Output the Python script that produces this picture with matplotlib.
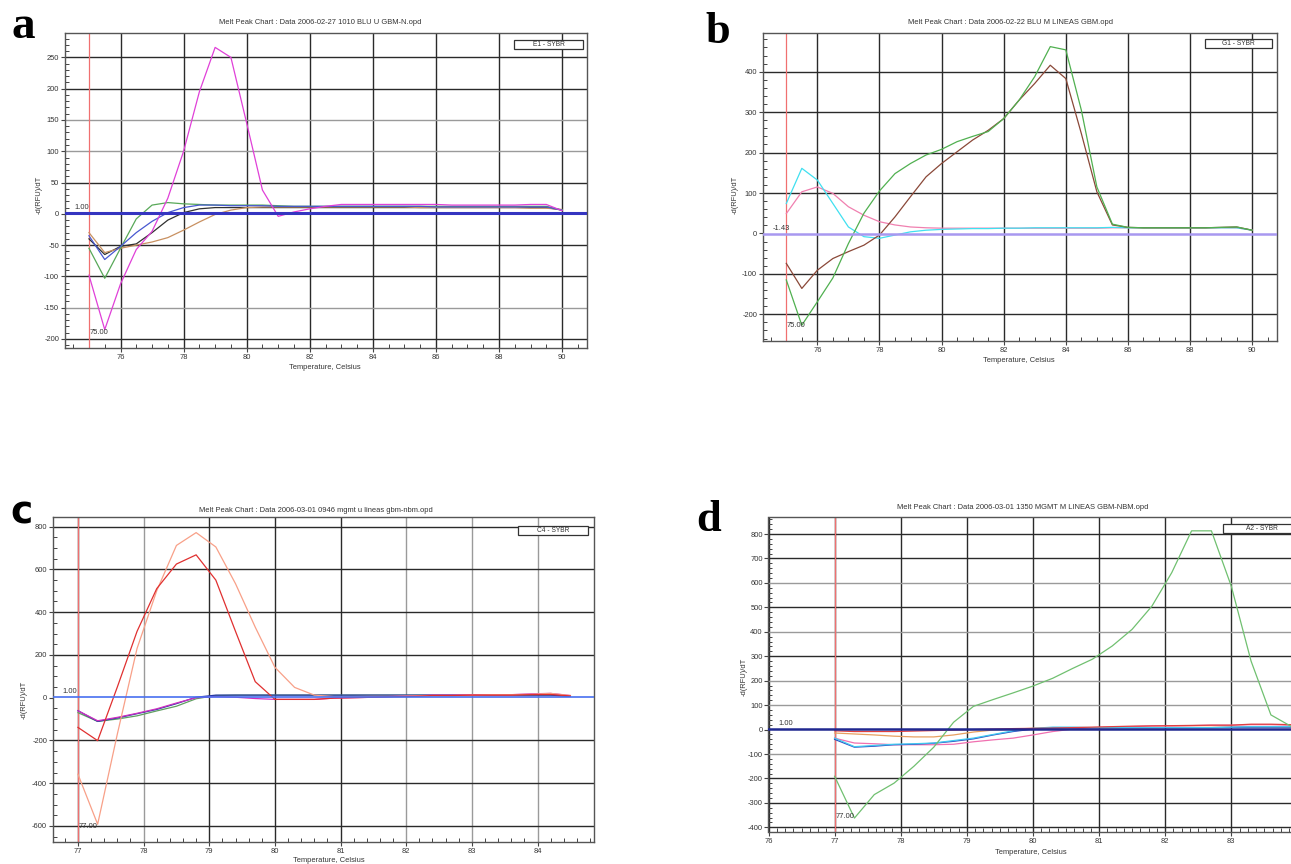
import matplotlib
matplotlib.use("Agg")
import matplotlib.pyplot as plt
from matplotlib.ticker import MultipleLocator
from matplotlib.patches import Rectangle

plt.rcParams['font.family'] = ['Liberation Sans', 'DejaVu Sans']

W, H = 1291, 864

# ---------------- data ----------------
# panel a  (step 0.5 C)
temp_a = [75.0, 75.5, 76.0, 76.5, 77.0, 77.5, 78.0, 78.5, 79.0, 79.5, 80.0, 80.5,
          81.0, 81.5, 82.0, 82.5, 83.0, 83.5, 84.0, 84.5, 85.0, 85.5, 86.0, 86.5,
          87.0, 87.5, 88.0, 88.5, 89.0, 89.5, 90.0]
a_black = [-40, -65, -52, -48, -30, -10, 2, 8, 10, 10, 10, 10, 10, 10, 10, 10, 10, 10,
           10, 10, 10, 10, 10, 10, 10, 10, 10, 10, 10, 10, 6]
a_tan = [-30, -62, -55, -50, -45, -38, -26, -13, -1, 6, 10, 11, 11, 11, 11, 11, 11, 11,
         11, 11, 11, 10, 10, 10, 10, 10, 10, 10, 9, 9, 7]
a_green = [-55, -103, -55, -8, 14, 18, 16, 15, 14, 14, 14, 14, 13, 12, 12, 12, 12, 12,
           12, 12, 12, 12, 12, 12, 12, 12, 12, 12, 12, 12, 6]
a_blue = [-35, -73, -52, -30, -12, 2, 10, 14, 14, 13, 13, 13, 12, 12, 12, 12, 12, 12,
          12, 12, 12, 12, 11, 11, 11, 11, 11, 11, 11, 11, 6]
a_magenta = [-98, -185, -112, -57, -28, 25, 100, 195, 266, 250, 145, 38, -4, 3, 8, 12,
             15, 15, 15, 15, 15, 15, 15, 14, 14, 14, 14, 14, 15, 15, 5]
thr_a = 1.00
start_a = 75.00

# panel b  (step 0.5 C)
temp_b = [75.0, 75.5, 76.0, 76.5, 77.0, 77.5, 78.0, 78.5, 79.0, 79.5, 80.0, 80.5,
          81.0, 81.5, 82.0, 82.5, 83.0, 83.5, 84.0, 84.5, 85.0, 85.5, 86.0, 86.5,
          87.0, 87.5, 88.0, 88.5, 89.0, 89.5, 90.0]
b_green = [-115, -227, -169, -110, -25, 50, 105, 148, 173, 194, 208, 227, 240, 252, 284,
           330, 388, 462, 454, 305, 115, 23, 15, 14, 14, 14, 14, 14, 15, 16, 8]
b_brown = [-74, -136, -91, -62, -45, -29, -4, 41, 91, 140, 173, 202, 231, 255, 284, 330,
           371, 416, 383, 247, 103, 21, 15, 14, 14, 14, 14, 14, 15, 16, 8]
b_cyan = [74, 161, 132, 74, 16, -8, -12, -4, 4, 8, 10, 11, 12, 12, 13, 13, 14, 14, 14,
          14, 14, 15, 14, 14, 14, 14, 14, 14, 14, 14, 8]
b_pink = [49, 103, 115, 99, 66, 45, 29, 21, 16, 14, 13, 13, 13, 13, 13, 13, 13, 13, 13,
          13, 13, 14, 14, 14, 14, 14, 14, 14, 14, 14, 8]
thr_b = -1.43
start_b = 75.00

# panel c  (step 0.3 C)
temp_c = [77.0, 77.3, 77.6, 77.9, 78.2, 78.5, 78.8, 79.1, 79.4, 79.7, 80.0, 80.3, 80.6,
          80.9, 81.2, 81.5, 81.8, 82.1, 82.4, 82.7, 83.0, 83.3, 83.6, 83.9, 84.2, 84.5]
c_green = [-70, -111, -100, -85, -62, -40, -5, 10, 12, 12, 12, 12, 12, 12, 12, 12, 12,
           12, 12, 12, 12, 12, 12, 12, 12, 6]
c_blue = [-61, -111, -95, -75, -55, -28, 2, 12, 12, 12, 12, 12, 12, 12, 12, 12, 12, 12,
          12, 12, 12, 12, 12, 12, 12, 6]
c_magenta = [-61, -108, -92, -73, -52, -25, 0, 5, 2, -4, -8, -8, -8, -2, 0, 2, 6, 8, 12,
             12, 14, 14, 14, 18, 20, 10]
c_salmon = [-358, -592, -170, 230, 500, 712, 772, 705, 533, 330, 142, 48, 12, 5, 5, 6,
            6, 8, 10, 10, 12, 14, 14, 16, 20, 10]
c_red = [-139, -201, 50, 310, 510, 625, 668, 550, 310, 75, -8, -8, -8, -2, 0, 2, 4, 6,
         10, 10, 12, 12, 12, 14, 15, 8]
thr_c = 1.00
start_c = 77.00

# panel d  (step 0.3 C)
temp_d = [77.0, 77.3, 77.6, 77.9, 78.2, 78.5, 78.8, 79.1, 79.4, 79.7, 80.0, 80.3, 80.6,
          80.9, 81.2, 81.5, 81.8, 82.1, 82.4, 82.7, 83.0, 83.3, 83.6, 83.9, 84.2]
d_orange = [-14, -18, -22, -27, -30, -30, -22, -10, -2, 2, 5, 6, 7, 8, 8, 8, 8, 9, 9, 9,
            10, 10, 10, 10, 10]
d_pink = [-35, -55, -58, -62, -62, -62, -60, -50, -42, -35, -22, -8, 2, 8, 10, 12, 15,
          15, 16, 18, 18, 20, 20, 18, 16]
d_blue = [-40, -72, -68, -62, -60, -56, -48, -38, -22, -8, 2, 8, 8, 8, 8, 8, 8, 8, 8, 8,
          9, 10, 10, 10, 10]
d_cyan = [-35, -70, -65, -60, -58, -55, -45, -35, -20, -5, 5, 10, 10, 8, 8, 8, 8, 8, 8,
          8, 10, 12, 12, 12, 12]
d_red = [-5, -8, -8, -8, -6, -4, -2, 0, 2, 4, 5, 6, 8, 10, 12, 14, 15, 16, 17, 18, 18,
         22, 22, 20, 18]
d_green = [-191, -362, -266, -219, -150, -72, 30, 95, 123, 150, 178, 210, 250, 288, 342,
           410, 505, 642, 813, 813, 587, 280, 60, 14, 10]
thr_d = 1.00
start_d = 77.00

# tick labels shown on each panel
xticks_a = [76, 78, 80, 82, 84, 86, 88, 90]
yticks_a = [-200, -150, -100, -50, 0, 50, 100, 150, 200, 250]
xticks_b = [76, 78, 80, 82, 84, 86, 88, 90]
yticks_b = [-200, -100, 0, 100, 200, 300, 400]
xticks_c = [77, 78, 79, 80, 81, 82, 83, 84]
yticks_c = [-600, -400, -200, 0, 200, 400, 600, 800]
xticks_d = [76, 77, 78, 79, 80, 81, 82, 83]
yticks_d = [-400, -300, -200, -100, 0, 100, 200, 300, 400, 500, 600, 700, 800]

titles = ["Melt Peak Chart : Data 2006-02-27 1010 BLU U GBM-N.opd",
          "Melt Peak Chart : Data 2006-02-22 BLU M LINEAS GBM.opd",
          "Melt Peak Chart : Data 2006-03-01 0946 mgmt u lineas gbm-nbm.opd",
          "Melt Peak Chart : Data 2006-03-01 1350 MGMT M LINEAS GBM-NBM.opd"]
wells = ["E1 - SYBR", "G1 - SYBR", "C4 - SYBR", "A2 - SYBR"]
letters = ["a", "b", "c", "d"]

# ---------------- drawing ----------------
fig = plt.figure(figsize=(W / 100, H / 100), dpi=100)
TXT = '#333333'


def rect(l, t, r, b):
    return [l / W, 1 - b / H, (r - l) / W, (b - t) / H]


def fx(x):
    return x / W


def fy(y):
    return 1 - y / H


def panel(box, xlim, ylim, xmin, ymin, xt, yt, light_x, light_y,
          series, thr, thr_color, thr_lw, start):
    ax = fig.add_axes(rect(*box))
    ax.set_xlim(*xlim)
    ax.set_ylim(*ylim)
    ax.xaxis.set_minor_locator(MultipleLocator(xmin))
    ax.yaxis.set_minor_locator(MultipleLocator(ymin))
    ax.set_xticks(xt)
    ax.set_yticks(yt)
    ax.set_xticklabels([f"{v:g}" for v in xt])
    ax.set_yticklabels([f"{v:g}" for v in yt])
    for v in xt:
        ax.axvline(v, color='#9a9a9a' if v in light_x else '#2a2a2a', lw=1.0, zorder=1)
    for v in yt:
        if v == 0:
            continue
        ax.axhline(v, color='#9a9a9a' if v in light_y else '#2a2a2a', lw=1.0, zorder=1)
    ax.axvline(start, color='#f07070', lw=0.9, zorder=2)
    for x, y, c in series:
        ax.plot(x, y, color=c, lw=0.9, zorder=3)
    ax.axhline(thr, color=thr_color, lw=thr_lw, zorder=4)
    ax.tick_params(which='major', direction='out', length=3, width=0.8, color='#444444',
                   labelsize=5.4, labelcolor=TXT, pad=1.2)
    ax.tick_params(which='minor', direction='in', length=3, width=0.7, color='#444444')
    for s in ax.spines.values():
        s.set_color('#555555')
        s.set_linewidth(1.0)
    ax.annotate(f"{thr:.2f}", xy=(0, thr), xycoords=ax.get_yaxis_transform(),
                xytext=(7, 1.5), textcoords='offset points', ha='left', va='bottom',
                fontsize=5.4, color=TXT)
    ax.annotate(f"{start:.2f}", xy=(start, 0), xycoords=ax.get_xaxis_transform(),
                xytext=(0.5, 11), textcoords='offset points', ha='left', va='center',
                fontsize=5.4, color=TXT)
    return ax


# panel a
panel((65, 33, 587, 348), (74.24, 90.79), (-214.4, 289), 0.5, 10,
      xticks_a, yticks_a, [], [150, 100, -150],
      [(temp_a, a_black, '#303030'), (temp_a, a_tan, '#c89060'),
       (temp_a, a_green, '#58a858'), (temp_a, a_blue, '#4858d0'),
       (temp_a, a_magenta, '#e040d8')],
      thr_a, '#3535c0', 2.2, start_a)

# panel b
panel((763, 33, 1277, 341), (74.25, 90.80), (-266, 495.7), 0.5, 20,
      xticks_b, yticks_b, [], [],
      [(temp_b, b_pink, '#f080b0'), (temp_b, b_cyan, '#40e0f0'),
       (temp_b, b_brown, '#8a4838'), (temp_b, b_green, '#50b050')],
      thr_b, '#a898f0', 1.8, start_b)

# panel c
panel((53, 517, 594, 842), (76.62, 84.86), (-675, 845), 0.2, 50,
      xticks_c, yticks_c, [78, 82, 83, 84], [],
      [(temp_c, c_green, '#60a060'), (temp_c, c_blue, '#2838a8'),
       (temp_c, c_magenta, '#d030c0'), (temp_c, c_salmon, '#f8a088'),
       (temp_c, c_red, '#e03030')],
      thr_c, '#4870f0', 1.2, start_c)

# panel d (its right part runs off the picture, as in the source figure)
panel((768.5, 517, 1300, 832), (76.0, 84.04), (-419, 869.6), 0.125, 20,
      xticks_d, yticks_d, [], [600, 400, 200, 100, -100],
      [(temp_d, d_orange, '#e8a060'), (temp_d, d_pink, '#f070b0'),
       (temp_d, d_blue, '#3048c0'), (temp_d, d_cyan, '#40c8f0'),
       (temp_d, d_red, '#e04040'), (temp_d, d_green, '#70c070')],
      thr_d, '#202890', 1.8, start_d)

# titles, axis labels, legend boxes, panel letters
title_pos = [(320, 23), (1010, 23), (316, 510), (1023, 508)]
xlab_pos = [(325, 367), (1019, 360), (329, 860), (1031, 853)]
ylab_pos = [(39, 195), (735, 195), (24, 700), (744, 677)]
box_pos = [(514, 40, 583, 49), (1205, 39, 1272, 48), (518, 526, 588, 535),
           (1223, 524, 1300, 533)]
letter_pos = [(12, 38, 34, 'Liberation Serif'), (705, 43, 32, 'Liberation Serif'),
              (10, 524, 27, 'DejaVu Sans'), (696, 531, 32, 'Liberation Serif')]

for i in range(4):
    fig.text(fx(title_pos[i][0]), fy(title_pos[i][1]), titles[i], ha='center',
             va='center', fontsize=5.4, color=TXT)
    fig.text(fx(xlab_pos[i][0]), fy(xlab_pos[i][1]), "Temperature, Celsius",
             ha='center', va='center', fontsize=5.4, color=TXT)
    fig.text(fx(ylab_pos[i][0]), fy(ylab_pos[i][1]), "-d(RFU)/dT", ha='center',
             va='center', rotation=90, fontsize=5.4, color=TXT)
    l, t, r, b = box_pos[i]
    fig.add_artist(Rectangle((fx(l), fy(b)), (r - l) / W, (b - t) / H,
                             transform=fig.transFigure, facecolor='white',
                             edgecolor='#333333', lw=0.9, zorder=10))
    fig.text(fx((l + r) / 2), fy((t + b) / 2), wells[i], ha='center', va='center',
             fontsize=4.8, color=TXT, zorder=11)
    lx, ly, ls, lf = letter_pos[i]
    fig.text(fx(lx), fy(ly), letters[i], ha='left', va='baseline', fontsize=ls,
             fontweight='bold', family=lf, color='black')

fig.savefig("out.png", dpi=100, facecolor='white')
